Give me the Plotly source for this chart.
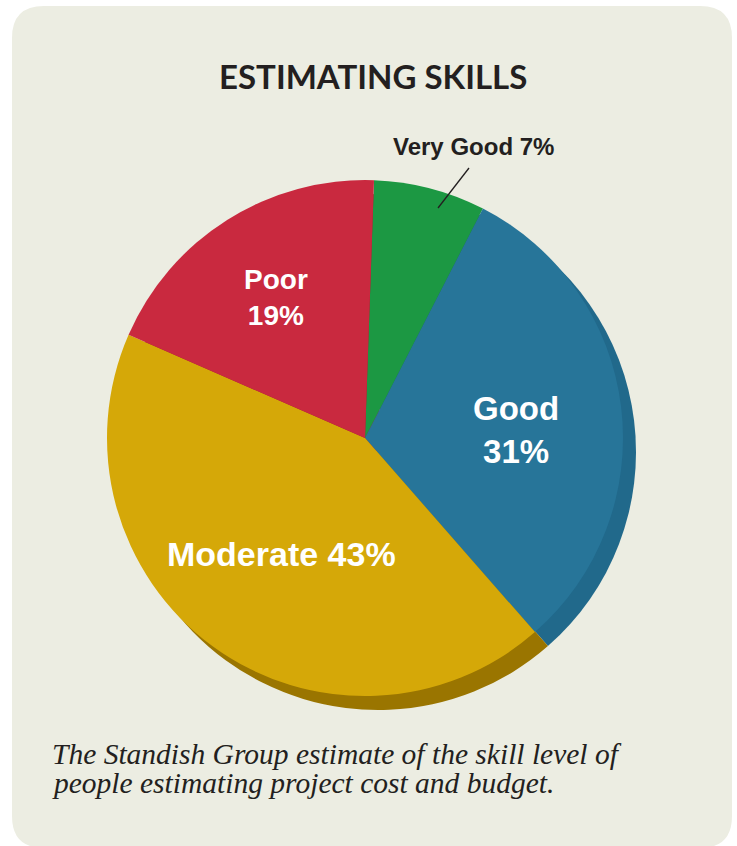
import math
import plotly.graph_objects as go

# ---- data ----
categories = ["Very Good", "Good", "Moderate", "Poor"]
values = [7, 31, 43, 19]
colors = ["#1C9843", "#277599", "#D5A808", "#C9293F"]
shadow_colors = ["#157a35", "#21698B", "#9A7500", "#9e1f31"]
title_text = "ESTIMATING SKILLS"
caption_lines = ["The Standish Group estimate of the skill level of",
                 "people estimating project cost and budget."]

W, H = 737, 846
BG = "#ECEDE2"
INK = "#231F20"


def px(x, y):
    return x / W, 1 - y / H


# pie geometry (pixels)
CX, CY, R = 365, 438, 258
SDX, SDY = 13, 14
ROT = 2

fig = go.Figure()

# shadow / depth pie
fig.add_trace(go.Pie(
    labels=categories, values=values, sort=False, direction="clockwise",
    rotation=ROT, marker=dict(colors=shadow_colors, line=dict(width=0)),
    textinfo="none", hoverinfo="skip", showlegend=False,
    domain=dict(x=[(CX + SDX - R) / W, (CX + SDX + R) / W],
                y=[1 - (CY + SDY + R) / H, 1 - (CY + SDY - R) / H]),
))
# main pie
fig.add_trace(go.Pie(
    labels=categories, values=values, sort=False, direction="clockwise",
    rotation=ROT, marker=dict(colors=colors, line=dict(width=0)),
    textinfo="none", hoverinfo="label+percent", showlegend=False,
    domain=dict(x=[(CX - R) / W, (CX + R) / W],
                y=[1 - (CY + R) / H, 1 - (CY - R) / H]),
))

# panel background (rounded rectangle)
x0, y0, x1, y1, rr = 12, 6, 732, 848, 32
path = (f"M {x0+rr},{y0} L {x1-rr},{y0} Q {x1},{y0} {x1},{y0+rr} "
        f"L {x1},{y1-rr} Q {x1},{y1} {x1-rr},{y1} L {x0+rr},{y1} "
        f"Q {x0},{y1} {x0},{y1-rr} L {x0},{y0+rr} Q {x0},{y0} {x0+rr},{y0} Z")


def conv_path(p):
    out = []
    for tok in p.split(" "):
        if "," in tok:
            a, b = tok.split(",")
            xx, yy = px(float(a), float(b))
            out.append(f"{xx:.5f},{yy:.5f}")
        else:
            out.append(tok)
    return " ".join(out)


shapes = [dict(type="path", xref="paper", yref="paper", path=conv_path(path),
               fillcolor=BG, line=dict(width=0), layer="below")]

# leader line for the small slice
lx0, ly0 = px(469, 168)
lx1, ly1 = px(438, 208)
shapes.append(dict(type="line", xref="paper", yref="paper", x0=lx0, y0=ly0,
                   x1=lx1, y1=ly1, line=dict(color=INK, width=1.3)))

# label placement from slice angles
total = sum(values)
label_cfg = {
    "Very Good": dict(pos=(474, 147), size=24, color=INK, two=False),
    "Good": dict(rfac=0.59, dy=11, size=33, color="white", two=True),
    "Moderate": dict(rfac=0.55, dy=1, size=34, color="white", two=False),
    "Poor": dict(rfac=0.645, dy=0, size=28, color="white", two=True),
}
annotations = []
cum = 0
for cat, v in zip(categories, values):
    a0 = ROT + cum / total * 360
    cum += v
    a1 = ROT + cum / total * 360
    mid = math.radians((a0 + a1) / 2)
    cfg = label_cfg[cat]
    if "pos" in cfg:
        lxp, lyp = cfg["pos"]
    else:
        r = cfg["rfac"] * R
        lxp = CX + r * math.sin(mid)
        lyp = CY - r * math.cos(mid) + cfg["dy"]
    sep = "<br>" if cfg["two"] else " "
    ax, ay = px(lxp, lyp)
    annotations.append(dict(
        x=ax, y=ay, xref="paper", yref="paper", showarrow=False,
        text=f"<b>{cat}{sep}{v}%</b>", xanchor="center", yanchor="middle",
        font=dict(family="Liberation Sans, Arial, sans-serif",
                  size=cfg["size"], color=cfg["color"]),
    ))

# title
tx, ty = px(373, 76)
annotations.append(dict(x=tx, y=ty, xref="paper", yref="paper", showarrow=False,
                        text=f"<b>{title_text}</b>", xanchor="center", yanchor="middle",
                        font=dict(family="Lato, Open Sans, sans-serif", size=33, color=INK)))
# caption
for i, line in enumerate(caption_lines):
    cx_, cy_ = px(50, 754 + 29 * i)
    annotations.append(dict(x=cx_, y=cy_, xref="paper", yref="paper", showarrow=False,
                            text=f"<i>{line}</i>", xanchor="left", yanchor="middle",
                            font=dict(family="Liberation Serif, Times New Roman, serif",
                                      size=29.5, color=INK)))

fig.update_layout(
    width=W, height=H, margin=dict(l=0, r=0, t=0, b=0),
    paper_bgcolor="white", plot_bgcolor="white",
    shapes=shapes, annotations=annotations,
)

fig.write_html("out.html", config={"displayModeBar": False},
               post_script="document.body.style.margin='0';document.body.style.overflow='hidden';")
